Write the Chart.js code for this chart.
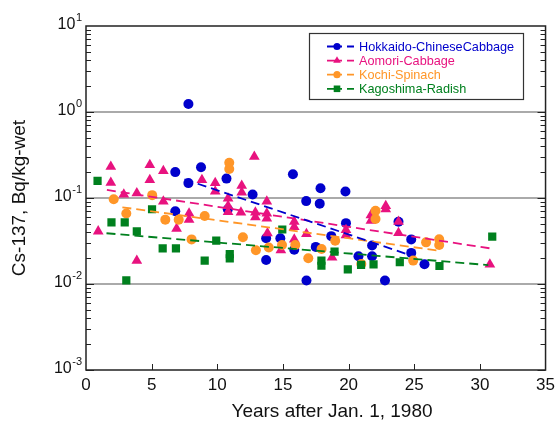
<!DOCTYPE html>
<html>
<head>
<meta charset="utf-8">
<script src="https://cdn.jsdelivr.net/npm/chart.js@4/dist/chart.umd.min.js"></script>
<style>
  html, body { margin: 0; padding: 0; background: #fff; }
  #wrap { width: 560px; height: 424px; }
</style>
</head>
<body>
<div id="wrap"><canvas id="chart" width="560" height="424"></canvas></div>
<script>
const seriesNames = ['Hokkaido-ChineseCabbage', 'Aomori-Cabbage', 'Kochi-Spinach', 'Kagoshima-Radish'];
const seriesColors = ['#0000cc', '#e8127f', '#ff9628', '#00801e'];
const seriesMarkers = ['circle', 'triangle', 'circle', 'rect'];

// measured Cs-137 (Bq/kg-wet) against years after 1980
const hokkaidoYears = [6.8, 7.8, 7.8, 6.8, 8.76, 10.7, 10.8, 12.69, 13.72, 13.72, 14.8, 15.76, 15.86, 16.77, 16.79,
  17.5, 17.86, 17.8, 18.68, 19.76, 19.8, 20.75, 21.79, 21.79, 22.77, 23.8, 24.77, 24.77, 25.78];
const hokkaidoCs = [0.2, 1.24, 0.149, 0.070, 0.228, 0.168, 0.074, 0.110, 0.034, 0.019, 0.034, 0.189, 0.025, 0.092, 0.011,
  0.027, 0.130, 0.086, 0.036, 0.119, 0.051, 0.021, 0.028, 0.021, 0.011, 0.053, 0.033, 0.023, 0.017];

const aomoriYears = [0.93, 1.89, 1.89, 2.88, 3.87, 3.87, 4.86, 4.86, 5.89, 5.89, 6.9, 7.85, 7.85, 8.83, 9.84, 9.84,
  10.82, 10.82, 10.82, 11.86, 11.86, 11.8, 12.82, 12.9, 12.9, 13.77, 13.77, 13.77, 13.82, 14.84, 15.86, 15.86, 15.86,
  16.79, 18.74, 19.8, 19.8, 21.7, 21.7, 22.83, 22.83, 23.8, 23.8, 30.76];
const aomoriCs = [0.041, 0.231, 0.151, 0.110, 0.114, 0.0187, 0.242, 0.162, 0.206, 0.091, 0.044, 0.066, 0.056, 0.162, 0.150, 0.119,
  0.099, 0.081, 0.069, 0.139, 0.116, 0.068, 0.302, 0.068, 0.060, 0.091, 0.066, 0.058, 0.039, 0.0247, 0.053, 0.046, 0.033,
  0.0382, 0.0204, 0.0425, 0.0371, 0.063, 0.0547, 0.081, 0.074, 0.053, 0.0393, 0.0169];

const kochiYears = [2.11, 3.07, 5.04, 6.04, 7.06, 8.04, 9.04, 10.91, 10.91, 11.95, 12.94, 13.92, 14.93, 15.94, 16.93,
  17.94, 18.98, 20.97, 22.05, 22.05, 24.92, 25.9, 26.9, 26.9];
const kochiCs = [0.0966, 0.066, 0.108, 0.056, 0.056, 0.033, 0.0618, 0.257, 0.217, 0.035, 0.0247, 0.0266, 0.0284, 0.0284, 0.0199,
  0.0255, 0.0318, 0.0171, 0.071, 0.057, 0.0187, 0.0305, 0.0331, 0.0284];

const kagoshimaYears = [0.88, 1.94, 2.95, 3.87, 5.03, 5.84, 6.85, 3.07, 9.04, 9.92, 10.95, 10.95, 14.95, 17.93, 17.93,
  18.93, 19.94, 20.95, 21.9, 23.9, 26.92, 30.94];
const kagoshimaCs = [0.158, 0.052, 0.052, 0.041, 0.074, 0.026, 0.026, 0.011, 0.0187, 0.032, 0.0223, 0.0199, 0.043, 0.0187, 0.0163,
  0.0238, 0.0148, 0.0167, 0.0169, 0.0179, 0.0162, 0.0355];

// fitted trend lines, start and end points
const hokkaidoTrendYears = [7.5, 24.4];
const hokkaidoTrendCs = [0.165, 0.0224];
const aomoriTrendYears = [1.59, 30.76];
const aomoriTrendCs = [0.124, 0.026];
const kochiTrendYears = [2.77, 26.86];
const kochiTrendCs = [0.078, 0.0244];
const kagoshimaTrendYears = [1.56, 30.64];
const kagoshimaTrendCs = [0.0389, 0.0166];

const xTickValues = [0, 5, 10, 15, 20, 25, 30, 35];
const decades = [0.001, 0.01, 0.1, 1, 10];
const gridDecades = [0.01, 0.1, 1];

const toPoints = (xs, ys) => xs.map((x, i) => ({ x, y: ys[i] }));
const markerRadius = { circle: 5, triangle: 6.2, rect: 5.8 };

function scatterSet(idx, xs, ys) {
  const color = seriesColors[idx];
  return {
    type: 'scatter',
    label: seriesNames[idx],
    data: toPoints(xs, ys),
    pointStyle: seriesMarkers[idx],
    pointRadius: markerRadius[seriesMarkers[idx]],
    pointHoverRadius: 5,
    backgroundColor: color,
    borderColor: color,
    borderWidth: 0,
    order: 10 - idx
  };
}

function trendSet(idx, xs, ys) {
  return {
    type: 'line',
    label: seriesNames[idx] + ' fit',
    data: toPoints(xs, ys),
    borderColor: seriesColors[idx],
    borderWidth: 1.8,
    borderDash: [9, 5],
    pointRadius: 0,
    fill: false,
    order: 0
  };
}

// gray decade lines behind the points
const decadeGrid = {
  id: 'decadeGrid',
  beforeDatasetsDraw(chart) {
    const { ctx, chartArea: a, scales: { y } } = chart;
    ctx.save();
    ctx.strokeStyle = '#aaaaaa';
    ctx.lineWidth = 2;
    gridDecades.forEach(d => {
      const py = y.getPixelForValue(d);
      ctx.beginPath();
      ctx.moveTo(a.left, py);
      ctx.lineTo(a.right, py);
      ctx.stroke();
    });
    ctx.restore();
  }
};

function drawMarker(ctx, style, x, y, r, color) {
  ctx.fillStyle = color;
  ctx.beginPath();
  if (style === 'circle') {
    ctx.arc(x, y, r, 0, Math.PI * 2);
  } else if (style === 'triangle') {
    ctx.moveTo(x, y - r);
    ctx.lineTo(x + r * 0.866, y + r * 0.5);
    ctx.lineTo(x - r * 0.866, y + r * 0.5);
    ctx.closePath();
  } else {
    const s = r * 0.75;
    ctx.rect(x - s, y - s, 2 * s, 2 * s);
  }
  ctx.fill();
}

// frame, inward ticks, log labels, titles and legend box
const decorations = {
  id: 'decorations',
  afterDraw(chart) {
    const { ctx, chartArea: a, scales: { x, y } } = chart;
    ctx.save();

    ctx.strokeStyle = '#222';
    ctx.lineWidth = 1;
    for (let i = 0; i < decades.length - 1; i++) {
      for (let m = 1; m <= 9; m++) {
        const v = decades[i] * m;
        const py = Math.round(y.getPixelForValue(v)) + 0.5;
        const len = m === 1 ? 8 : 5;
        ctx.beginPath();
        ctx.moveTo(a.left, py); ctx.lineTo(a.left + len, py);
        ctx.moveTo(a.right, py); ctx.lineTo(a.right - len, py);
        ctx.stroke();
      }
    }
    xTickValues.slice(1, -1).forEach(v => {
      const px = Math.round(x.getPixelForValue(v)) + 0.5;
      ctx.beginPath();
      ctx.moveTo(px, a.bottom); ctx.lineTo(px, a.bottom - 6);
      ctx.stroke();
    });

    ctx.lineWidth = 1.5;
    ctx.strokeRect(a.left, a.top, a.width, a.height);

    // 10^n labels on the log axis
    ctx.fillStyle = '#111';
    decades.forEach(d => {
      const py = y.getPixelForValue(d);
      const exp = String(Math.round(Math.log10(d)));
      ctx.font = '11px "Liberation Sans", Arial, sans-serif';
      ctx.textAlign = 'right';
      ctx.textBaseline = 'middle';
      const expW = ctx.measureText(exp).width;
      ctx.fillText(exp, 82, py - 8);
      ctx.font = '16px "Liberation Sans", Arial, sans-serif';
      ctx.fillText('10', 82 - expW - 0.5, py - 1);
    });

    // axis titles
    ctx.font = '19px "Liberation Sans", Arial, sans-serif';
    ctx.textAlign = 'center';
    ctx.textBaseline = 'middle';
    ctx.fillText('Years after Jan. 1, 1980', 332, 412);
    ctx.save();
    ctx.translate(20, (a.top + a.bottom) / 2);
    ctx.rotate(-Math.PI / 2);
    ctx.fillText('Cs-137, Bq/kg-wet', 0, 0);
    ctx.restore();

    // legend
    const lx = 309, ly = 33, lw = 214, lh = 66;
    ctx.fillStyle = '#fff';
    ctx.fillRect(lx, ly, lw, lh);
    ctx.strokeStyle = '#333';
    ctx.lineWidth = 1.2;
    ctx.strokeRect(lx + 0.5, ly + 0.5, lw, lh);
    ctx.font = '12.7px "Liberation Sans", Arial, sans-serif';
    ctx.textAlign = 'left';
    ctx.textBaseline = 'middle';
    seriesNames.forEach((name, i) => {
      const ry = ly + 13.5 + i * 14.1;
      const c = seriesColors[i];
      ctx.strokeStyle = c;
      ctx.lineWidth = 1.8;
      ctx.beginPath();
      ctx.moveTo(327, ry); ctx.lineTo(342, ry);
      ctx.moveTo(347, ry); ctx.lineTo(354, ry);
      ctx.stroke();
      drawMarker(ctx, seriesMarkers[i], 337, ry, seriesMarkers[i] === 'circle' ? 3.6 : 4.4, c);
      ctx.fillStyle = c;
      ctx.fillText(name, 359, ry + 0.5);
    });

    ctx.restore();
  }
};

new Chart(document.getElementById('chart'), {
  data: {
    datasets: [
      scatterSet(0, hokkaidoYears, hokkaidoCs),
      scatterSet(1, aomoriYears, aomoriCs),
      scatterSet(2, kochiYears, kochiCs),
      scatterSet(3, kagoshimaYears, kagoshimaCs),
      trendSet(0, hokkaidoTrendYears, hokkaidoTrendCs),
      trendSet(1, aomoriTrendYears, aomoriTrendCs),
      trendSet(2, kochiTrendYears, kochiTrendCs),
      trendSet(3, kagoshimaTrendYears, kagoshimaTrendCs)
    ]
  },
  options: {
    responsive: false,
    animation: false,
    layout: { padding: { top: 26, right: 11, left: 0, bottom: 0 } },
    plugins: { legend: { display: false }, tooltip: { enabled: false } },
    scales: {
      x: {
        type: 'linear',
        min: 0,
        max: 35,
        afterBuildTicks: s => { s.ticks = xTickValues.map(v => ({ value: v })); },
        afterFit: s => { s.height = 54; },
        grid: { display: false, drawTicks: false },
        border: { display: false },
        ticks: {
          color: '#111',
          padding: 5,
          maxRotation: 0,
          font: { family: '"Liberation Sans", Arial, sans-serif', size: 17 }
        }
      },
      y: {
        type: 'logarithmic',
        min: 0.001,
        max: 10,
        afterFit: s => { s.width = 86; },
        grid: { display: false, drawTicks: false },
        border: { display: false },
        ticks: { display: false }
      }
    }
  },
  plugins: [decadeGrid, decorations]
});
</script>
</body>
</html>
